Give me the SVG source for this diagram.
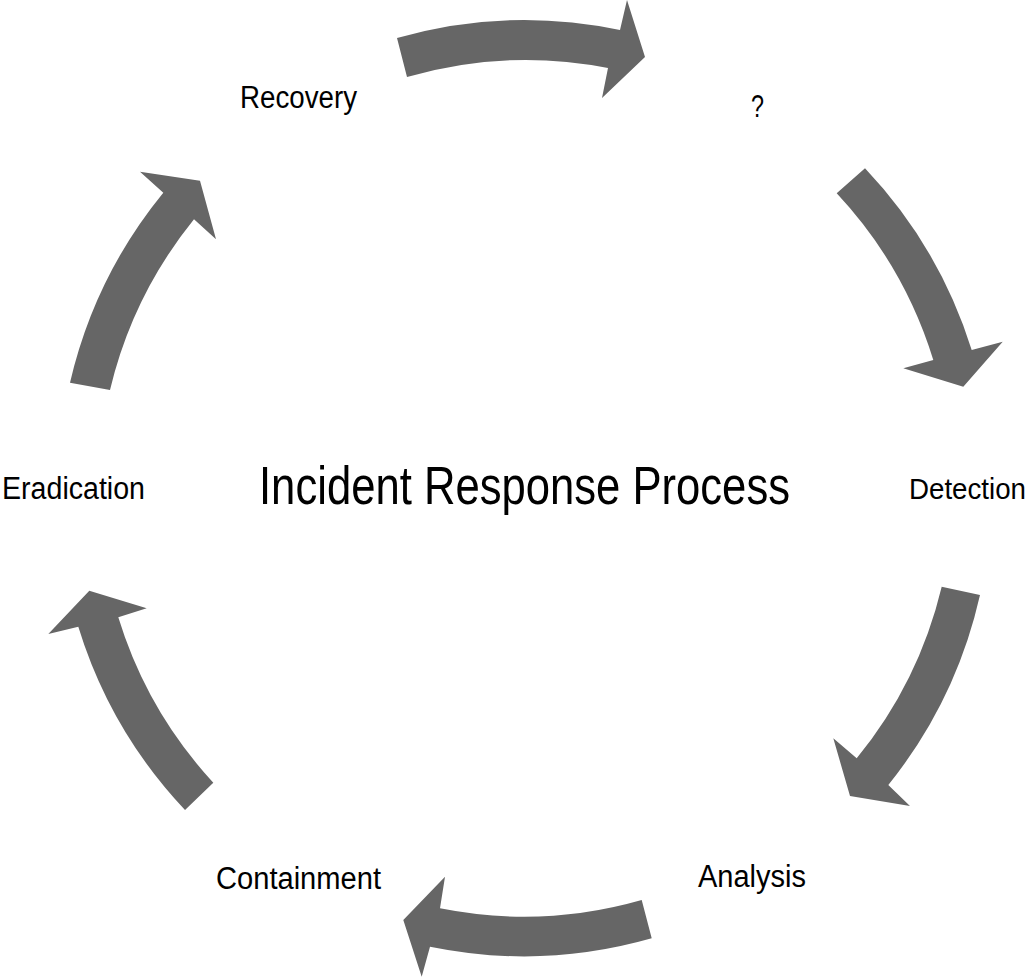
<svg xmlns="http://www.w3.org/2000/svg" width="1034" height="977" viewBox="0 0 1034 977">
  <style>
    .arrow { fill: #666666; stroke: none; }
    .label { font-family: "Liberation Sans Narrow", "Liberation Sans", Arial, sans-serif; font-size: 31px; fill: #000000; }
    .title { font-family: "Liberation Sans Narrow", "Liberation Sans", Arial, sans-serif; font-size: 53px; fill: #000000; }
  </style>
  <rect width="1034" height="977" fill="#ffffff"/>
  <g id="connectors">
    <path class="arrow" d="M397,38 A467,467 0 0 1 620,30 L627,0 L645,57 L602,98 L608,68 A429,429 0 0 0 407,77 Z"/>
    <path class="arrow" d="M865,168.3 A467,467 0 0 1 971.7,350 L1002.7,341.7 L963.3,386.7 L903.3,368.3 L933.3,360 A429,429 0 0 0 836.7,193.3 Z"/>
    <path class="arrow" d="M980,595 A467,467 0 0 1 888.3,785 L910,806 L850,796 L833.3,738.3 L856.7,758.3 A429,429 0 0 0 941.7,586.7 Z"/>
    <path class="arrow" d="M651.7,938.3 A467,467 0 0 1 430,946.7 L421.7,976.7 L403.3,920 L445,876.7 L440,908.3 A429,429 0 0 0 641.7,900 Z"/>
    <path class="arrow" d="M185,810 A467,467 0 0 1 78.3,626.7 L48.3,634 L89.3,590.7 L146.7,608.3 L118.3,617.3 A429,429 0 0 0 213.3,782.7 Z"/>
    <path class="arrow" d="M70,382.7 A467,467 0 0 1 163.3,192.7 L140,171.7 L200,180.7 L216,239.3 L194,219.3 A429,429 0 0 0 110,390 Z"/>
  </g>
  <g id="title">
    <text class="title" x="259" y="504" textLength="531" lengthAdjust="spacingAndGlyphs">Incident Response Process</text>
  </g>
  <g id="node-unknown">
    <text class="label" x="751" y="117" textLength="13" lengthAdjust="spacingAndGlyphs">?</text>
  </g>
  <g id="node-detection">
    <text class="label" x="909" y="499" style="font-size:29px" textLength="117" lengthAdjust="spacingAndGlyphs">Detection</text>
  </g>
  <g id="node-analysis">
    <text class="label" x="698" y="887" textLength="108" lengthAdjust="spacingAndGlyphs">Analysis</text>
  </g>
  <g id="node-containment">
    <text class="label" x="216" y="889" textLength="165" lengthAdjust="spacingAndGlyphs">Containment</text>
  </g>
  <g id="node-eradication">
    <text class="label" x="2" y="499" textLength="143" lengthAdjust="spacingAndGlyphs">Eradication</text>
  </g>
  <g id="node-recovery">
    <text class="label" x="240" y="108" textLength="117" lengthAdjust="spacingAndGlyphs">Recovery</text>
  </g>
</svg>
